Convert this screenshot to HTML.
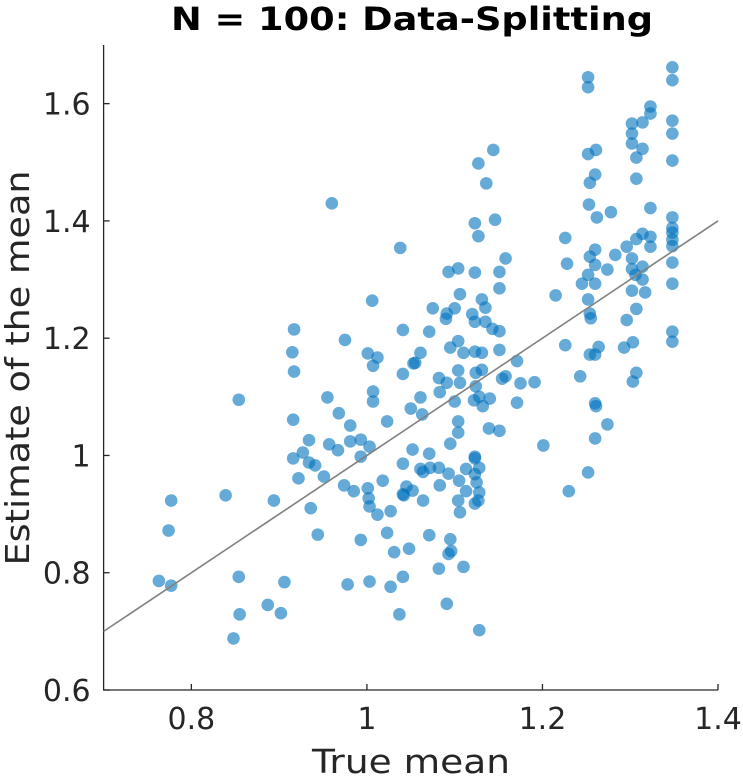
<!DOCTYPE html>
<html><head><meta charset="utf-8"><style>
body{margin:0;background:#fff;}
svg{display:block;font-family:"DejaVu Sans","Liberation Sans",sans-serif;}
</style></head><body>
<svg id="chart" width="743" height="777" viewBox="0 0 743 777">
<text x="412" y="30" font-size="32" font-weight="bold" text-anchor="middle" fill="#000" textLength="482" lengthAdjust="spacingAndGlyphs">N = 100: Data-Splitting</text>
<g id="plot"></g>
<text x="411" y="773" font-size="33" text-anchor="middle" fill="#262626" textLength="198" lengthAdjust="spacingAndGlyphs">True mean</text>
<text transform="translate(29,368) rotate(-90)" font-size="33" text-anchor="middle" fill="#262626" textLength="395" lengthAdjust="spacingAndGlyphs">Estimate of the mean</text>
</svg>
<script>
const xTicks=[0.8,1.0,1.2,1.4];
const xTickLabels=["0.8","1","1.2","1.4"];
const yTicks=[0.6,0.8,1.0,1.2,1.4,1.6];
const yTickLabels=["0.6","0.8","1","1.2","1.4","1.6"];
const refLine=[0.7,1.4];
const xs=[0.777,0.774,0.763,0.777,0.839,0.854,0.854,0.855,0.848,0.887,0.902,0.906,0.894,0.917,0.915,0.917,0.955,0.916,0.934,0.927,0.916,0.934,0.941,0.922,0.951,0.936,0.944,0.975,1.001,1.012,1.007,1.041,1.041,1.053,1.007,1.007,0.968,0.981,1.023,1.050,0.957,0.967,0.981,0.993,1.003,0.993,1.041,1.052,0.974,0.985,1.001,1.002,1.003,1.012,1.018,1.027,1.045,1.041,1.052,1.023,0.993,1.031,1.048,0.978,1.003,1.027,1.041,1.037,
1.144,1.127,1.136,1.123,1.146,1.127,1.038,1.158,1.093,1.104,1.123,1.151,1.151,1.106,1.075,1.131,1.135,1.100,1.091,1.090,1.120,1.123,1.135,1.143,1.151,1.071,1.104,1.095,1.110,1.123,1.131,1.151,1.061,1.055,1.171,1.104,1.124,1.131,1.082,1.091,1.106,1.083,1.124,1.154,1.158,1.175,1.191,1.061,1.063,1.100,1.122,1.128,1.132,1.140,1.171,1.104,1.104,1.095,1.139,1.151,1.071,1.123,1.201,
1.252,1.261,1.260,1.254,1.253,1.262,1.278,1.302,1.302,1.314,1.307,1.307,1.323,1.348,1.348,1.226,1.228,1.215,1.226,1.243,1.260,1.254,1.260,1.274,1.283,1.296,1.307,1.314,1.323,1.323,1.252,1.245,1.260,1.252,1.254,1.255,1.302,1.302,1.314,1.306,1.314,1.302,1.317,1.307,1.296,1.348,1.348,1.348,1.348,1.348,1.348,1.348,1.348,1.348,1.264,1.254,1.260,1.303,1.293,1.307,1.303,1.260,1.261,1.274,1.260,
1.252,1.252,1.348,1.348,1.323,1.323,1.314,1.302,1.348,
1.061,1.064,1.072,1.082,1.093,1.105,1.113,1.123,1.128,1.123,1.125,1.128,1.127,1.123,1.113,1.104,1.106,1.042,1.064,1.083,1.071,1.095,1.096,1.093,1.082,1.110,1.091,1.128,1.252,1.230,0.960,1.006];
const ys=[0.923,0.872,0.786,0.778,0.932,1.095,0.793,0.729,0.688,0.745,0.731,0.784,0.923,1.215,1.176,1.143,1.099,1.061,1.026,1.005,0.995,0.988,0.983,0.961,0.964,0.910,0.865,1.197,1.174,1.167,1.153,1.139,1.214,1.157,1.109,1.092,1.072,1.051,1.058,1.080,1.019,1.009,1.024,1.027,1.015,0.998,0.986,1.010,0.949,0.939,0.944,0.927,0.913,0.899,0.957,0.905,0.947,0.934,0.940,0.868,0.856,0.835,0.841,0.780,0.785,0.776,0.793,0.729,
1.521,1.498,1.464,1.396,1.402,1.374,1.354,1.336,1.313,1.319,1.312,1.313,1.285,1.275,1.251,1.266,1.252,1.251,1.242,1.233,1.241,1.228,1.228,1.216,1.212,1.211,1.195,1.184,1.175,1.177,1.175,1.180,1.175,1.158,1.161,1.145,1.141,1.146,1.132,1.124,1.124,1.108,1.118,1.131,1.135,1.123,1.125,1.099,1.070,1.092,1.094,1.100,1.084,1.097,1.090,1.058,1.039,1.020,1.046,1.042,1.003,0.998,1.017,
1.514,1.521,1.479,1.465,1.428,1.406,1.415,1.549,1.532,1.523,1.508,1.472,1.422,1.549,1.503,1.371,1.327,1.273,1.188,1.135,1.351,1.339,1.325,1.317,1.342,1.356,1.369,1.378,1.373,1.356,1.308,1.293,1.293,1.266,1.242,1.234,1.336,1.318,1.322,1.308,1.300,1.281,1.278,1.250,1.231,1.406,1.388,1.380,1.368,1.357,1.329,1.293,1.211,1.194,1.185,1.172,1.172,1.193,1.184,1.141,1.126,1.089,1.084,1.053,1.029,
1.645,1.628,1.662,1.640,1.595,1.583,1.568,1.566,1.571,
0.977,0.972,0.979,0.979,0.969,0.957,0.977,0.995,0.979,0.968,0.954,0.937,0.923,0.918,0.939,0.923,0.903,0.932,0.923,0.949,0.864,0.857,0.837,0.832,0.807,0.810,0.747,0.702,0.971,0.939,1.430,1.264];

const X0=103.6,X1=718,Y0=690,Y1=45,xmin=0.7,xmax=1.4,ymin=0.6,ymax=1.7;
const sx=v=>X0+(v-xmin)/(xmax-xmin)*(X1-X0);
const sy=v=>Y0-(v-ymin)/(ymax-ymin)*(Y0-Y1);
const NS="http://www.w3.org/2000/svg";
const g=document.getElementById('plot');
function mk(t,a){const e=document.createElementNS(NS,t);for(const k in a)e.setAttribute(k,a[k]);return e;}
const ax=mk('path',{d:`M${X0},${Y1}V${Y0}H${X1}`,fill:'none',stroke:'#262626','stroke-width':1.3});


g.appendChild(ax);
xTicks.forEach((t,i)=>{
  const l=mk('line',{x1:sx(t),x2:sx(t),y1:Y0,y2:Y0-6,stroke:'#262626','stroke-width':1.3});
  
  
  g.appendChild(l);
  const tx=mk('text',{x:sx(t),y:Y0+39,'font-size':30,'text-anchor':'middle',fill:'#262626'});
  
  
  tx.textContent=xTickLabels[i];g.appendChild(tx);
});
yTicks.forEach((t,i)=>{
  const l=mk('line',{x1:X0,x2:X0+6,y1:sy(t),y2:sy(t),stroke:'#262626','stroke-width':1.3});
  
  
  g.appendChild(l);
  const tx=mk('text',{x:X0-13,y:sy(t)+11,'font-size':30,'text-anchor':'end',fill:'#262626'});
  
  
  tx.textContent=yTickLabels[i];g.appendChild(tx);
});
xs.forEach((x,i)=>{
  const c=mk('circle',{cx:sx(x),cy:sy(ys[i]),r:6.3,fill:'#0072BD','fill-opacity':0.6});
  
  
  g.appendChild(c);
});
const rl=mk('line',{x1:sx(refLine[0]),y1:sy(refLine[0]),x2:sx(refLine[1]),y2:sy(refLine[1]),stroke:'#808080','stroke-width':1.6});


g.appendChild(rl);
</script>
</body></html>
